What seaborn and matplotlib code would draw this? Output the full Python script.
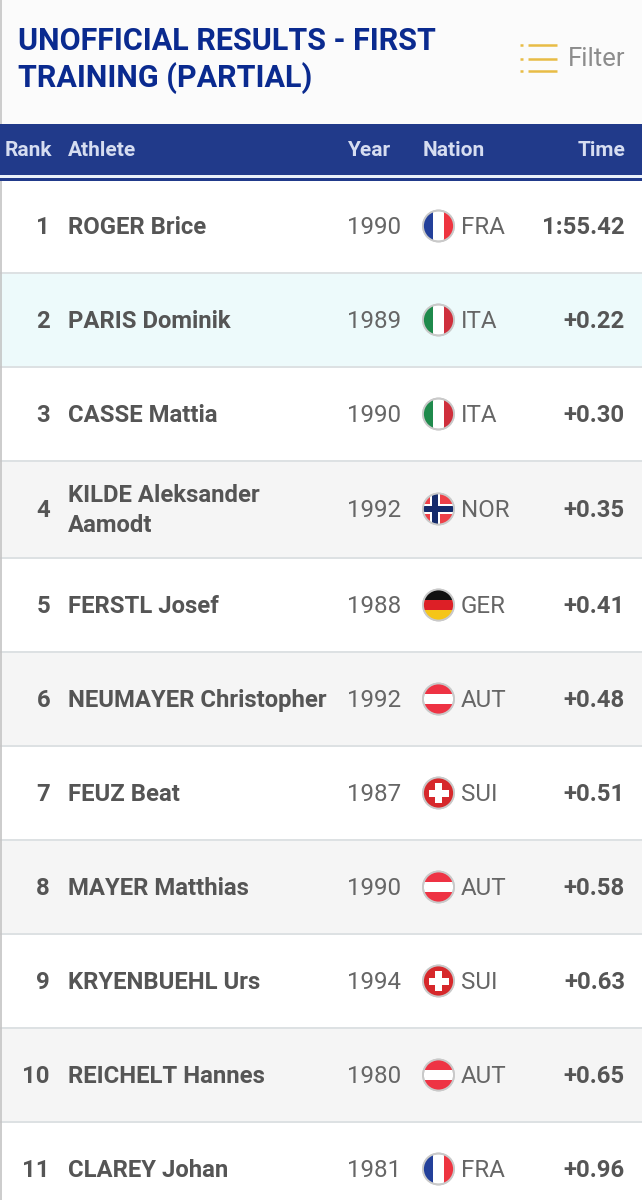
import seaborn as sns
import pandas as pd
import matplotlib.pyplot as plt
from matplotlib.patches import Circle, Rectangle

# table contents
title_lines = ['UNOFFICIAL RESULTS - FIRST', 'TRAINING (PARTIAL)']
ranks = [1, 2, 3, 4, 5, 6, 7, 8, 9, 10, 11]
athletes = ['ROGER Brice', 'PARIS Dominik', 'CASSE Mattia', 'KILDE Aleksander\nAamodt',
            'FERSTL Josef', 'NEUMAYER Christopher', 'FEUZ Beat', 'MAYER Matthias',
            'KRYENBUEHL Urs', 'REICHELT Hannes', 'CLAREY Johan']
years = [1990, 1989, 1990, 1992, 1988, 1992, 1987, 1990, 1994, 1980, 1981]
nations = ['FRA', 'ITA', 'ITA', 'NOR', 'GER', 'AUT', 'SUI', 'AUT', 'SUI', 'AUT', 'FRA']
times = ['1:55.42', '+0.22', '+0.30', '+0.35', '+0.41', '+0.48', '+0.51', '+0.58', '+0.63', '+0.65', '+0.96']
shades = ['white', 'leader', 'white', 'grey', 'white', 'grey', 'white', 'grey', 'white', 'grey', 'white']

# layout, in pixels of the picture
row_mid = [226, 320, 414, 509, 605, 699, 793, 887, 981, 1075, 1169]
row_lines = [273, 367, 461, 558, 652, 746, 840, 934, 1028, 1122]

NAVY = '#213A8A'
TEXT = '#555555'
TEXT_SIZE = 17.2
TEXT_DROP = 1.5

sns.set_theme(style='white')
plt.rcParams['font.family'] = ['Roboto', 'DejaVu Sans']

fig = plt.figure(figsize=(6.42, 12), dpi=100, facecolor='#FBFBFB')
ax = fig.add_axes([0, 0, 1, 1])
ax.set_facecolor('#FBFBFB')

# row bands
data = pd.DataFrame({'mid': row_mid, 'shade': shades, 'span': [642] * len(row_mid)})
sns.barplot(data=data, x='span', y='mid', hue='shade', orient='h', native_scale=True,
            dodge=False, width=1.02, legend=False, ax=ax, linewidth=0,
            palette={'white': '#FFFFFF', 'leader': '#EBFCFD', 'grey': '#F5F5F5'})
ax.set_xlim(0, 642)
ax.set_ylim(1200, 0)
ax.axis('off')

ax.hlines(row_lines, 0, 642, color='#DDE1E3', lw=1.4, zorder=3)
ax.axvline(0.5, color='#C4C4C4', lw=1.2, zorder=3)

# header bar
ax.add_patch(Rectangle((0, 124), 642, 51, color=NAVY, zorder=4, lw=0))
ax.add_patch(Rectangle((0, 175), 642, 3, color='#EAF1FA', zorder=4, lw=0))
ax.add_patch(Rectangle((0, 178), 642, 3, color=NAVY, zorder=4, lw=0))
head = dict(color='#D6DDF1', fontsize=15, fontweight='bold', va='center', zorder=5)
ax.text(5, 150, 'Rank', ha='left', **head)
ax.text(68, 150, 'Athlete', ha='left', **head)
ax.text(347, 150, 'Year', ha='left', **head)
ax.text(423, 150, 'Nation', ha='left', **head)
ax.text(625, 150, 'Time', ha='right', **head)

# title and filter
for line, y in zip(title_lines, [41, 78]):
    ax.text(18, y, line, color='#0A2A8F', fontsize=22, fontweight='bold', va='center', ha='left')
ax.hlines([45, 58.5, 71], 528, 557, color='#E8BC45', lw=1.8)
ax.hlines([45, 58.5, 71], 520, 523, color='#E8BC45', lw=1.8)
ax.text(568, 59, 'Filter', color='#8C8C8C', fontsize=18.5, va='center', ha='left')


def flag(y, nation):
    x = 438.5
    r = 15.5
    disc = Circle((x, y), r, facecolor='white', edgecolor='#C9C9C9', lw=1.3, zorder=6)
    ax.add_patch(disc)
    parts = []
    if nation in ('FRA', 'ITA'):
        left, right = ('#23409A', '#EE3440') if nation == 'FRA' else ('#1F8A4C', '#CF2F3C')
        parts = [(x - r, y - r, 2 * r / 3, 2 * r, left), (x + r / 3, y - r, 2 * r / 3, 2 * r, right)]
    elif nation == 'AUT':
        parts = [(x - r, y - r, 2 * r, 2 * r / 3, '#EE3344'), (x - r, y + r / 3, 2 * r, 2 * r / 3, '#EE3344')]
    elif nation == 'GER':
        parts = [(x - r, y - r, 2 * r, 2 * r / 3, '#111111'), (x - r, y - r / 3, 2 * r, 2 * r / 3, '#DD1F26'),
                 (x - r, y + r / 3, 2 * r, 2 * r / 3, '#F5C518')]
    elif nation == 'SUI':
        parts = [(x - r, y - r, 2 * r, 2 * r, '#D6282B'), (x - 3.5, y - 10, 7, 20, 'white'), (x - 10, y - 3.5, 20, 7, 'white')]
    elif nation == 'NOR':
        parts = [(x - r, y - r, 2 * r, 2 * r, '#EE4048'), (x - 9, y - r, 10, 2 * r, 'white'), (x - r, y - 5, 2 * r, 10, 'white'),
                 (x - 7, y - r, 6, 2 * r, '#152B6B'), (x - r, y - 3, 2 * r, 6, '#152B6B')]
    for px, py, w, h, c in parts:
        rect = Rectangle((px, py), w, h, facecolor=c, lw=0, zorder=6.1)
        ax.add_patch(rect)
        rect.set_clip_path(disc)
    ax.add_patch(Circle((x, y), r, fill=False, edgecolor='#C9C9C9', lw=1.3, zorder=6.2))


# rows
for i, y in enumerate(row_mid):
    ty = y + TEXT_DROP
    ax.text(50, ty, str(ranks[i]), color=TEXT, fontsize=TEXT_SIZE, fontweight='bold', ha='right', va='center', zorder=7)
    ax.text(68, ty, athletes[i], color=TEXT, fontsize=TEXT_SIZE, fontweight='bold', ha='left', va='center',
            linespacing=1.42, zorder=7)
    ax.text(347, ty, str(years[i]), color='#666666', fontsize=TEXT_SIZE + 0.2, ha='left', va='center', zorder=7)
    flag(y, nations[i])
    ax.text(461, ty, nations[i], color='#666666', fontsize=TEXT_SIZE + 0.2, ha='left', va='center', zorder=7)
    ax.text(625, ty, times[i], color=TEXT, fontsize=TEXT_SIZE, fontweight='bold', ha='right', va='center', zorder=7)

plt.savefig('out.png', dpi=100, facecolor=fig.get_facecolor())
